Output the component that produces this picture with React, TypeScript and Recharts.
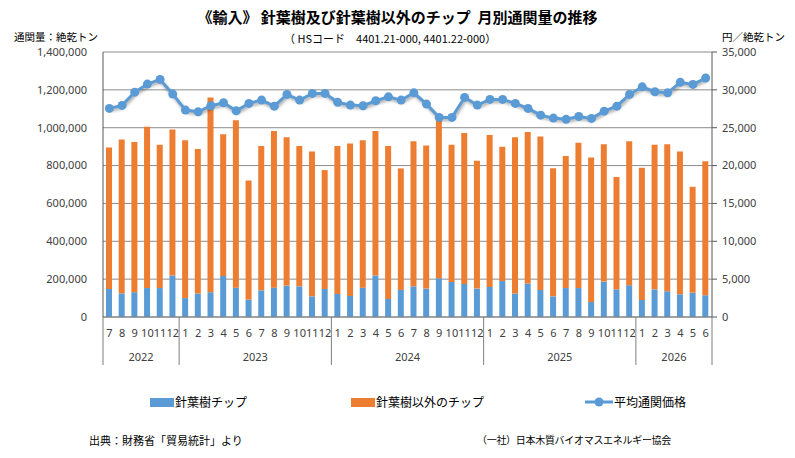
import React from 'react'
import {
  ComposedChart,
  Bar,
  Line,
  XAxis,
  YAxis,
  CartesianGrid,
} from 'recharts'

// 2022-07 .. 2026-06
const months = [
  7, 8, 9, 10, 11, 12,
  1, 2, 3, 4, 5, 6, 7, 8, 9, 10, 11, 12,
  1, 2, 3, 4, 5, 6, 7, 8, 9, 10, 11, 12,
  1, 2, 3, 4, 5, 6, 7, 8, 9, 10, 11, 12,
  1, 2, 3, 4, 5, 6,
]
const years = [
  2022, 2022, 2022, 2022, 2022, 2022,
  2023, 2023, 2023, 2023, 2023, 2023, 2023, 2023, 2023, 2023, 2023, 2023,
  2024, 2024, 2024, 2024, 2024, 2024, 2024, 2024, 2024, 2024, 2024, 2024,
  2025, 2025, 2025, 2025, 2025, 2025, 2025, 2025, 2025, 2025, 2025, 2025,
  2026, 2026, 2026, 2026, 2026, 2026,
]

// 針葉樹チップ (絶乾トン)
const conifer = [
  148000, 125000, 131000, 153000, 153000, 219000,
  100000, 124000, 131000, 217000, 155000, 92000, 141000, 155000, 166000, 162000, 109000, 148000,
  122000, 111000, 155000, 219000, 95000, 143000, 162000, 150000, 205000, 185000, 175000, 150000,
  159000, 190000, 124000, 177000, 143000, 109000, 153000, 153000, 79000, 187000, 146000, 168000,
  90000, 146000, 136000, 120000, 129000, 115000,
]

// 針葉樹以外のチップ (絶乾トン)
const nonConifer = [
  748000, 813000, 793000, 852000, 757000, 772000,
  834000, 763000, 1029000, 748000, 884000, 629000, 762000, 827000, 784000, 741000, 766000, 628000,
  781000, 806000, 779000, 763000, 808000, 642000, 766000, 756000, 835000, 725000, 797000, 675000,
  802000, 709000, 826000, 801000, 811000, 677000, 697000, 767000, 764000, 725000, 594000, 760000,
  698000, 764000, 776000, 755000, 559000, 708000,
]

// 平均通関価格 (円/絶乾トン)
const price = [
  27550, 27950, 29700, 30760, 31380, 29440,
  27330, 27100, 27900, 28290, 27230, 28210, 28650, 27850, 29400, 28650, 29530, 29530,
  28350, 27990, 27900, 28560, 29080, 28650, 29610, 28120, 26360, 26360, 29000, 27990,
  28740, 28740, 28210, 27550, 26660, 26270, 26110, 26480, 26230, 27190, 27850, 29400,
  30400, 29750, 29610, 30990, 30720, 31560,
]

const leftTicks = [0, 200000, 400000, 600000, 800000, 1000000, 1200000, 1400000]
const rightTicks = [0, 5000, 10000, 15000, 20000, 25000, 30000, 35000]

const data = months.map((m, i) => ({
  key: `${years[i]}-${m}`,
  conifer: conifer[i],
  nonConifer: nonConifer[i],
  price: price[i],
}))

const W = 795
const H = 458
const PLOT_LEFT = 103
const PLOT_RIGHT = 712
const PLOT_BOTTOM = 317
const BAND = (PLOT_RIGHT - PLOT_LEFT) / months.length

const BLUE = '#5B9BD5'
const ORANGE = '#ED7D31'
const NUM_FONT = '"Noto Sans", sans-serif'
const JP_FONT = '"Noto Sans CJK JP", sans-serif'

function CategoryTick(props: any) {
  const { x, payload } = props
  const i = payload.index
  const y0 = PLOT_BOTTOM
  const isStart = i === 0 || years[i] !== years[i - 1]
  const isLast = i === months.length - 1
  let yearLabel = null
  if (isStart) {
    let len = 0
    while (i + len < years.length && years[i + len] === years[i]) len++
    yearLabel = (
      <text
        x={x + ((len - 1) * BAND) / 2}
        y={y0 + 44}
        textAnchor="middle"
        fontSize={11}
        fontFamily={NUM_FONT}
        fill="#404040"
      >
        {years[i]}
      </text>
    )
  }
  return (
    <g>
      <text x={x} y={y0 + 20} textAnchor="middle" fontSize={11} fontFamily={NUM_FONT} fill="#404040">
        {months[i]}
      </text>
      {isStart && (
        <line x1={x - BAND / 2} x2={x - BAND / 2} y1={y0} y2={y0 + 48} stroke="#7f7f7f" strokeWidth={1} />
      )}
      {isLast && (
        <line x1={x + BAND / 2} x2={x + BAND / 2} y1={y0} y2={y0 + 48} stroke="#7f7f7f" strokeWidth={1} />
      )}
      {yearLabel}
    </g>
  )
}

const textBase: React.CSSProperties = {
  position: 'absolute',
  fontFamily: JP_FONT,
  color: '#000',
  whiteSpace: 'nowrap',
  lineHeight: 1,
}

export default function App() {
  return (
    <div style={{ position: 'absolute', left: 0, top: 0, width: W, height: H, background: '#fff' }}>
      <style>{`.price-line { filter: drop-shadow(1px 2px 1.5px rgba(0,0,0,0.35)); }`}</style>

      <div style={{ ...textBase, left: 0, width: W, top: 9, textAlign: 'center', fontSize: 15, fontWeight: 'bold' }}>
        《輸入》 針葉樹及び針葉樹以外のチップ&nbsp;&nbsp;月別通関量の推移
      </div>
      <div style={{ ...textBase, left: 284, top: 33, fontSize: 11 }}>
        （ HSコード　4401.21-000, 4401.22-000）
      </div>
      <div style={{ ...textBase, left: 14, top: 32, fontSize: 10.5 }}>通関量：絶乾トン</div>
      <div style={{ ...textBase, left: 722, top: 32, fontSize: 10.5 }}>円／絶乾トン</div>

      <ComposedChart
        width={W}
        height={H}
        data={data}
        margin={{ top: 52, right: 13, left: 13, bottom: 91 }}
        barCategoryGap={0}
      >
        <CartesianGrid yAxisId="left" vertical={false} stroke="#8c8c8c" />
        <XAxis
          dataKey="key"
          yAxisId="left"
          height={50}
          interval={0}
          tickLine={false}
          axisLine={{ stroke: '#7f7f7f' }}
          tick={<CategoryTick />}
        />
        <YAxis
          yAxisId="left"
          width={90}
          domain={[0, 1400000]}
          ticks={leftTicks}
          tickFormatter={(v: number) => v.toLocaleString('en-US')}
          tickLine={false}
          axisLine={{ stroke: '#595959' }}
          tick={{ fontSize: 11, fontFamily: NUM_FONT, fill: '#404040' }}
          tickMargin={10}
        />
        <YAxis
          yAxisId="right"
          orientation="right"
          width={70}
          domain={[0, 35000]}
          ticks={rightTicks}
          tickFormatter={(v: number) => v.toLocaleString('en-US')}
          tickSize={5}
          tickLine={{ stroke: '#595959' }}
          axisLine={{ stroke: '#595959' }}
          tick={{ fontSize: 11, fontFamily: NUM_FONT, fill: '#404040', textAnchor: 'start' }}
          tickMargin={5}
        />
        <Bar yAxisId="left" dataKey="conifer" stackId="a" fill={BLUE} barSize={6} isAnimationActive={false} />
        <Bar yAxisId="left" dataKey="nonConifer" stackId="a" fill={ORANGE} barSize={6} isAnimationActive={false} />
        <Line
          className="price-line"
          yAxisId="right"
          dataKey="price"
          type="linear"
          stroke={BLUE}
          strokeWidth={3}
          dot={{ r: 4.5, fill: BLUE, stroke: BLUE, strokeWidth: 0 }}
          isAnimationActive={false}
        />
      </ComposedChart>

      {/* legend */}
      <div style={{ position: 'absolute', left: 150, top: 398, width: 24, height: 9, background: BLUE }} />
      <div style={{ ...textBase, left: 175, top: 396, fontSize: 12 }}>針葉樹チップ</div>
      <div style={{ position: 'absolute', left: 351, top: 398, width: 24, height: 9, background: ORANGE }} />
      <div style={{ ...textBase, left: 376, top: 396, fontSize: 12 }}>針葉樹以外のチップ</div>
      <svg style={{ position: 'absolute', left: 584, top: 395 }} width={30} height={14}>
        <line x1={1} x2={29} y1={7} y2={7} stroke={BLUE} strokeWidth={3} />
        <circle cx={15} cy={7} r={4.5} fill={BLUE} />
      </svg>
      <div style={{ ...textBase, left: 614, top: 396, fontSize: 12 }}>平均通関価格</div>

      {/* footer */}
      <div style={{ ...textBase, left: 89, top: 435, fontSize: 11 }}>出典：財務省「貿易統計」より</div>
      <div style={{ ...textBase, left: 477, top: 435, fontSize: 10, letterSpacing: -0.3 }}>（一社）日本木質バイオマスエネルギー協会</div>
    </div>
  )
}
